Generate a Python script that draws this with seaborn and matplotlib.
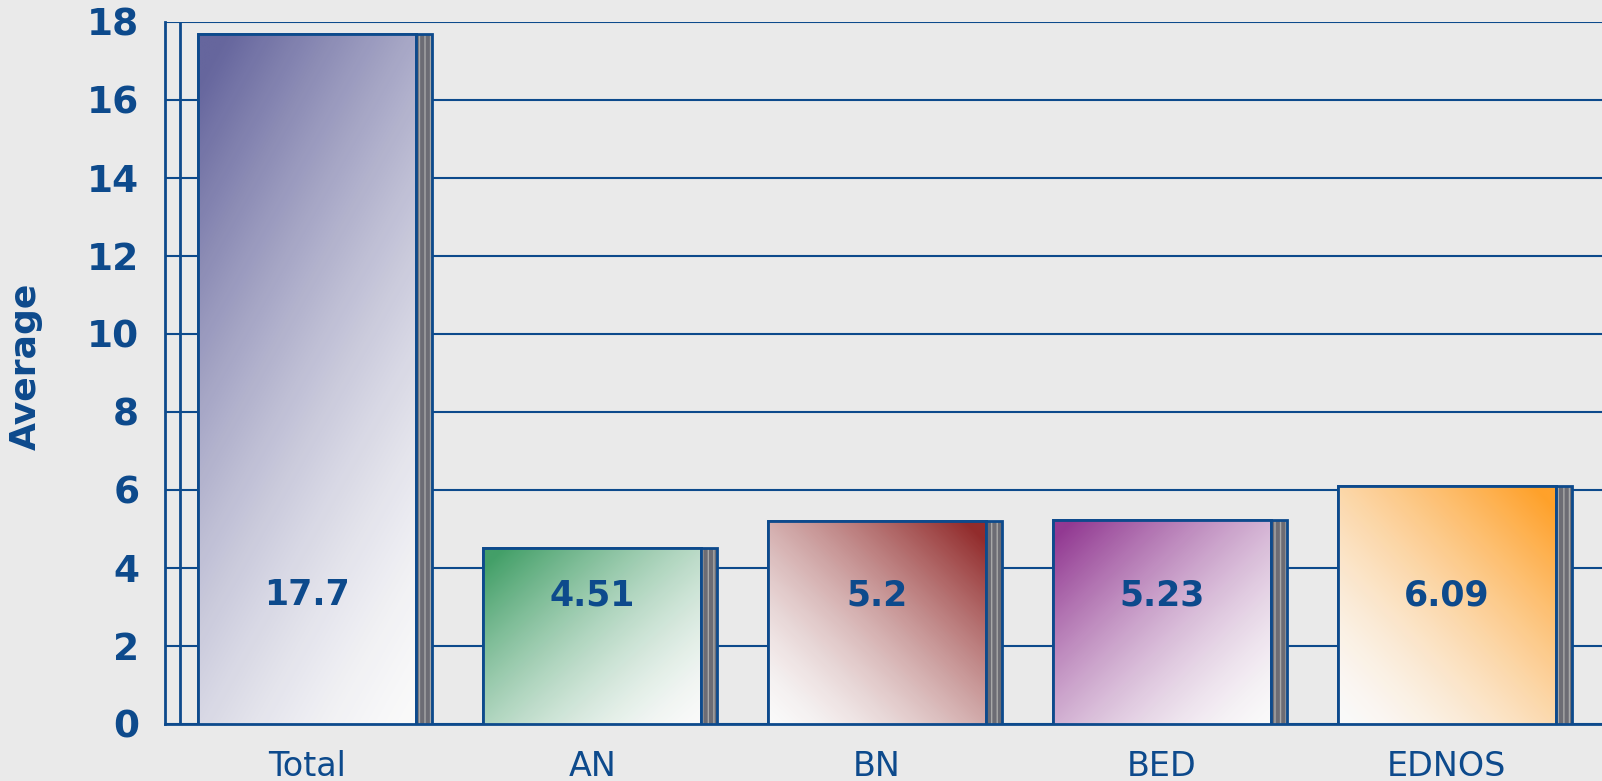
import numpy as np
import pandas as pd
import matplotlib
matplotlib.use("Agg")
import matplotlib.pyplot as plt
from matplotlib.patches import Rectangle
from matplotlib.colors import to_rgb
import seaborn as sns

# данные
categories = ["Total", "AN", "BN", "BED", "EDNOS"]
values = [17.7, 4.51, 5.2, 5.23, 6.09]
value_labels = ["17.7", "4.51", "5.2", "5.23", "6.09"]
bar_colors = ["#5A5A96", "#34985C", "#8A1C1C", "#8A2A8A", "#FF9A1A"]
# направление градиента: True = тёмный угол справа сверху
dark_right = [False, False, True, False, True]

BLUE = "#0D4A8C"
BG = "#EAEAEA"

sns.set_style("white")
plt.rcParams["font.family"] = ["DejaVu Sans"]

df = pd.DataFrame({"cat": categories, "val": values})

fig = plt.figure(figsize=(16.02, 7.81), dpi=100, facecolor=BG)
ax = fig.add_axes([0.103, 0.073, 0.897, 0.899])
ax.set_facecolor(BG)

bar_w = 0.765
side_w = 0.056
sns.barplot(data=df, x="cat", y="val", ax=ax, width=bar_w,
            color="white", edgecolor=BLUE, linewidth=2, zorder=3)

ax.set_xlim(-0.5, 4.545)
ax.set_ylim(0, 18)
ax.set_yticks(range(0, 19, 2))
ax.yaxis.grid(True, color=BLUE, linewidth=1.5, zorder=0)
ax.set_axisbelow(True)

# размер одной единицы данных в пикселях
fig.canvas.draw()
px_x = ax.transData.transform((1, 0))[0] - ax.transData.transform((0, 0))[0]
px_y = ax.transData.transform((0, 1))[1] - ax.transData.transform((0, 0))[1]

for i, p in enumerate(ax.patches[:len(values)]):
    x0, y0 = p.get_x(), p.get_y()
    w, h = p.get_width(), p.get_height()
    # градиентная заливка
    u = np.linspace(0, 1, 200)[None, :]
    v = np.linspace(1, 0, 200)[:, None]
    wu = np.sqrt(w * px_x)
    wv = np.sqrt(h * px_y)
    if dark_right[i]:
        s = (u * wu + v * wv) / (wu + wv)
    else:
        s = ((1 - u) * wu + v * wv) / (wu + wv)
    s = np.clip(s * 1.05, 0, 1) ** 1.5
    c = np.array(to_rgb(bar_colors[i]))
    img = np.ones((200, 200, 4))
    img[..., :3] = (1 - s[..., None]) * np.array([0.98, 0.98, 0.98]) + s[..., None] * c
    img[..., 3] = 0.93
    im = ax.imshow(img, extent=[x0, x0 + w, y0, y0 + h], aspect="auto",
                   zorder=3.5, interpolation="bilinear")
    im.set_clip_path(p)
    ax.add_patch(Rectangle((x0, y0), w, h, fill=False, edgecolor=BLUE,
                           linewidth=2, zorder=4))
    # боковая грань
    ax.add_patch(Rectangle((x0 + w, y0), side_w, h, facecolor="#6C6C74",
                           edgecolor="#A8A8A8", hatch="|||", linewidth=0, zorder=4))
    ax.add_patch(Rectangle((x0 + w, y0), side_w, h, fill=False,
                           edgecolor=BLUE, linewidth=2, zorder=4.5))
    ax.text(x0 + w / 2, 3.3, value_labels[i], ha="center", va="center",
            fontsize=25, fontweight="bold", color=BLUE, zorder=6)

ax.set_xlim(-0.5, 4.545)
ax.set_ylim(0, 18)

# задняя стенка
ax.plot([-0.447, -0.447], [0, 18], color=BLUE, linewidth=2, zorder=2)

for side in ["top", "right"]:
    ax.spines[side].set_visible(False)
ax.spines["left"].set_color(BLUE)
ax.spines["left"].set_linewidth(2)
ax.spines["bottom"].set_color(BLUE)
ax.spines["bottom"].set_linewidth(2)

ax.set_xticks(range(len(categories)))
ax.set_xticklabels(categories)
ax.set_xticks(np.arange(-0.5, 5, 1), minor=True)
ax.tick_params(axis="x", which="major", length=0, pad=19, labelsize=24, labelcolor=BLUE)
ax.tick_params(axis="x", which="minor", length=8.5, width=1.5, color=BLUE)
ax.tick_params(axis="y", length=8.5, width=1.5, color=BLUE, pad=10,
               labelsize=27, labelcolor=BLUE)
for t in ax.get_yticklabels():
    t.set_fontweight("bold")

ax.set_xlabel("")
ax.set_ylabel("Average", fontsize=26, fontweight="bold", color=BLUE)
ax.yaxis.set_label_coords(-0.085, 0.51)

plt.savefig("out.png", dpi=100, facecolor=BG)
plt.close()
